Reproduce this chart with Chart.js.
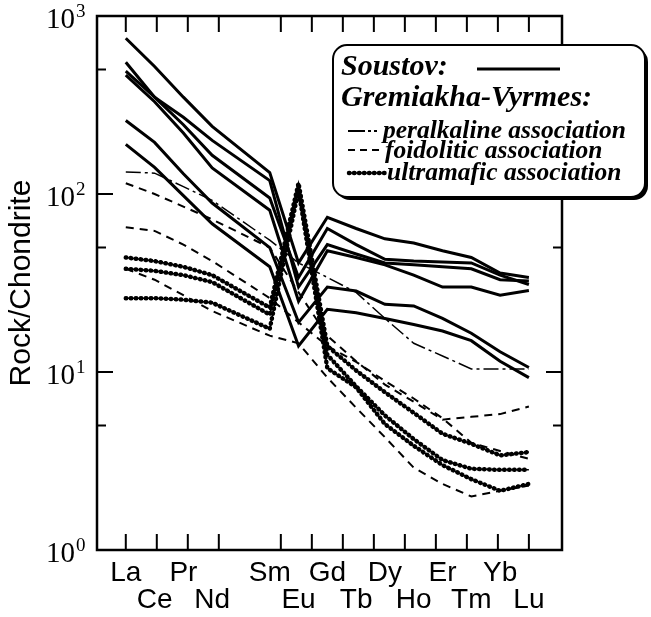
<!DOCTYPE html>
<html lang="en">
<head>
  <meta charset="UTF-8" />
  <title>REE patterns - Soustov and Gremiakha-Vyrmes</title>
  <script src="https://cdn.jsdelivr.net/npm/chart.js"></script>
  <style>
    body { margin: 0; background: #fff; }
    #wrap { width: 651px; height: 617px; position: relative; }
  </style>
</head>
<body>
  <div id="wrap"><canvas id="reeChart"></canvas></div>

  <script>
    // element order on the x axis (Pm keeps its slot but has no label / data)
    const elements = ['La', 'Ce', 'Pr', 'Nd', 'Pm', 'Sm', 'Eu', 'Gd', 'Tb', 'Dy', 'Ho', 'Er', 'Tm', 'Yb', 'Lu'];
    const yTicks = [1, 5, 10, 50, 100, 500, 1000];

    // Soustov (solid)
    const soustov1 = [750, 520, 350, 240, null, 132, 41, 74, 64, 56, 53, 48, 44, 36, 34];
    const soustov2 = [550, 350, 245, 165, null, 95, 34, 64, 52, 43, 42, 41.5, 41, 35, 31];
    const soustov3 = [490, 350, 270, 200, null, 119, 30, 52, 46, 41, 40, 39, 38, 33, 32.5];
    const soustov4 = [465, 330, 220, 140, null, 81, 25, 48, 44, 40, 35, 30, 30, 27, 28.7];
    const soustov5 = [259, 195, 130, 89, null, 50, 19, 30, 28.5, 24, 23.5, 20, 16.5, 13, 10.6];
    const soustov6 = [190, 141, 98, 68, null, 39, 14, 22.5, 21.5, 20, 18.5, 17, 15, 11.5, 9.3];

    // Gremiakha-Vyrmes
    const peralkaline = [133, 131, 110, 92, null, 55, 41, 34, 28, 20, 14.5, 12.3, 10.4, 10.4, 10.4];

    const foidolitic1 = [115, 100, 85, 72, null, 50, 28, 16, 11.5, 8.5, 6.8, 5.4, 5.6, 5.8, 6.4];
    const foidolitic2 = [65, 62, 52, 42, null, 26, 19, 14, 11.4, 8.9, 7.1, 5.5, 4.0, 3.6, 3.25];
    const foidolitic3 = [38, 33, 27, 22, null, 16, 14.5, 9.3, 6.3, 4.3, 2.9, 2.35, 2.0, 2.15, 2.3];

    const ultramafic1 = [44, 42, 39, 35, null, 23, 115, 14, 10.2, 7.7, 5.9, 4.5, 3.95, 3.4, 3.55];
    const ultramafic2 = [38, 37, 35, 32, null, 21, 110, 12.5, 8.3, 5.7, 4.2, 3.2, 2.86, 2.82, 2.82];
    const ultramafic3 = [26, 26, 25.5, 24.5, null, 17.5, 105, 10.5, 8.2, 5.1, 3.85, 3.0, 2.5, 2.15, 2.35];

    const labelled = elements.filter(e => e !== 'Pm');

    function points(values) {
      return values.map((v, i) => (v == null ? null : { x: i, y: v })).filter(p => p);
    }

    const base = { borderColor: '#000', pointRadius: 0, tension: 0, fill: false };
    const solidStyle = { borderWidth: 3 };
    const dashDotStyle = { borderWidth: 1.5, borderDash: [15, 4, 3, 4] };
    const dashStyle = { borderWidth: 2, borderDash: [8, 6] };
    const beadLine = { borderWidth: 1.5 };
    const beadDots = { borderWidth: 4.5, borderDash: [0.5, 4.5], borderCapStyle: 'round' };

    const datasets = [];
    [soustov1, soustov2, soustov3, soustov4, soustov5, soustov6].forEach((s, i) =>
      datasets.push({ label: 'Soustov ' + (i + 1), data: points(s), ...base, ...solidStyle }));
    datasets.push({ label: 'peralkaline association', data: points(peralkaline), ...base, ...dashDotStyle });
    [foidolitic1, foidolitic2, foidolitic3].forEach((s, i) =>
      datasets.push({ label: 'foidolitic ' + (i + 1), data: points(s), ...base, ...dashStyle }));
    [ultramafic1, ultramafic2, ultramafic3].forEach((s, i) => {
      datasets.push({ label: 'ultramafic ' + (i + 1), data: points(s), ...base, ...beadLine });
      datasets.push({ label: 'ultramafic ' + (i + 1) + ' beads', data: points(s), ...base, ...beadDots });
    });

    function roundRect(ctx, x, y, w, h, r) {
      ctx.beginPath();
      ctx.moveTo(x + r, y);
      ctx.arcTo(x + w, y, x + w, y + h, r);
      ctx.arcTo(x + w, y + h, x, y + h, r);
      ctx.arcTo(x, y + h, x, y, r);
      ctx.arcTo(x, y, x + w, y, r);
      ctx.closePath();
    }

    const framePlugin = {
      id: 'frame',
      afterDatasetsDraw(chart) {
        const { ctx, chartArea: a, scales: { x, y } } = chart;
        ctx.save();
        ctx.strokeStyle = '#000';
        ctx.lineWidth = 2.5;
        ctx.strokeRect(a.left, a.top, a.right - a.left, a.bottom - a.top);

        ctx.lineWidth = 2;
        ctx.beginPath();
        // the original spaces its tick marks evenly La..Lu as if there were 14 slots,
        // and leaves the fifth one out
        const slots = labelled.length - 1;
        for (let k = 0; k <= slots; k++) {
          if (k === 4) continue;
          const px = x.getPixelForValue(k * (elements.length - 1) / slots);
          ctx.moveTo(px, a.bottom); ctx.lineTo(px, a.bottom - 16);
          ctx.moveTo(px, a.top); ctx.lineTo(px, a.top + 16);
        }
        y.ticks.forEach(t => {
          const py = y.getPixelForValue(t.value);
          const len = Number.isInteger(Math.log10(t.value)) ? 16 : 9;
          ctx.moveTo(a.left, py); ctx.lineTo(a.left + len, py);
          ctx.moveTo(a.right, py); ctx.lineTo(a.right - len, py);
        });
        ctx.stroke();
        ctx.restore();
      },
      afterDraw(chart) {
        const { ctx, chartArea: a, scales: { y } } = chart;
        ctx.save();
        ctx.fillStyle = '#000';

        // y tick labels as 10 with a raised exponent
        y.ticks.forEach(t => {
          const e = Math.log10(t.value);
          if (!Number.isInteger(e)) return;
          const py = y.getPixelForValue(t.value);
          ctx.font = '29px "Liberation Serif"';
          ctx.textAlign = 'right';
          ctx.textBaseline = 'middle';
          ctx.fillText('10', a.left - 22, py + 4);
          ctx.font = '19px "Liberation Serif"';
          ctx.textAlign = 'left';
          ctx.textBaseline = 'alphabetic';
          ctx.fillText(String(e), a.left - 21, py + 1);
        });

        // legend box
        const lx = 333, ly = 45, lw = 312, lh = 152;
        roundRect(ctx, lx + 3, ly + 3, lw, lh, 14);
        ctx.fill();
        roundRect(ctx, lx, ly, lw, lh, 14);
        ctx.fillStyle = '#fff';
        ctx.fill();
        ctx.lineWidth = 2;
        ctx.strokeStyle = '#000';
        ctx.stroke();

        ctx.fillStyle = '#000';
        ctx.textAlign = 'left';
        ctx.textBaseline = 'alphabetic';
        ctx.font = 'italic bold 30px "Liberation Serif"';
        ctx.fillText('Soustov:', 341, 75);
        ctx.fillText('Gremiakha-Vyrmes:', 341, 106);
        ctx.font = 'italic bold 25.5px "Liberation Serif"';
        ctx.fillText('peralkaline association', 383, 138);
        ctx.fillText('foidolitic association', 385, 158);
        ctx.fillText('ultramafic association', 387, 180);

        function sample(x1, x2, yy, width, dash, cap) {
          ctx.beginPath();
          ctx.lineWidth = width;
          ctx.setLineDash(dash);
          ctx.lineCap = cap || 'butt';
          ctx.moveTo(x1, yy); ctx.lineTo(x2, yy);
          ctx.stroke();
        }
        sample(477, 560, 69, 3, []);
        sample(348, 381, 131, 1.8, [17, 3, 3, 3, 3, 100]);
        sample(348, 384, 150, 2, [7, 5]);
        sample(348, 385, 173, 1.5, []);
        sample(349, 385, 173, 4.5, [0.5, 4.5], 'round');
        ctx.restore();
      }
    };

    new Chart(document.getElementById('reeChart'), {
      type: 'line',
      data: { datasets },
      options: {
        responsive: true,
        maintainAspectRatio: false,
        animation: false,
        layout: { padding: { top: 16, right: 89, left: 0, bottom: 0 } },
        plugins: { legend: { display: false }, tooltip: { enabled: false } },
        scales: {
          x: {
            type: 'linear',
            min: -1,
            max: 15.15,
            grid: { display: false, drawTicks: false },
            border: { display: false },
            afterBuildTicks: scale => {
              scale.ticks = elements.map((e, i) => ({ value: i })).filter(t => elements[t.value] !== 'Pm');
            },
            afterFit: scale => { scale.height = 67; },
            ticks: {
              autoSkip: false,
              maxRotation: 0,
              padding: 10,
              color: '#000',
              font: { family: 'Liberation Sans', size: 28, lineHeight: 0.97 },
              callback: (value, index) => (index % 2 === 0 ? [elements[value], ''] : ['', elements[value]])
            }
          },
          y: {
            type: 'logarithmic',
            min: 1,
            max: 1000,
            grid: { display: false, drawTicks: false },
            border: { display: false },
            afterBuildTicks: scale => { scale.ticks = yTicks.map(v => ({ value: v })); },
            afterFit: scale => { scale.width = 97; },
            ticks: { display: false },
            title: {
              display: true,
              text: 'Rock/Chondrite',
              color: '#000',
              font: { family: 'Liberation Sans', size: 30 },
              padding: { top: 4, bottom: 0 }
            }
          }
        }
      },
      plugins: [framePlugin]
    });
  </script>
</body>
</html>
